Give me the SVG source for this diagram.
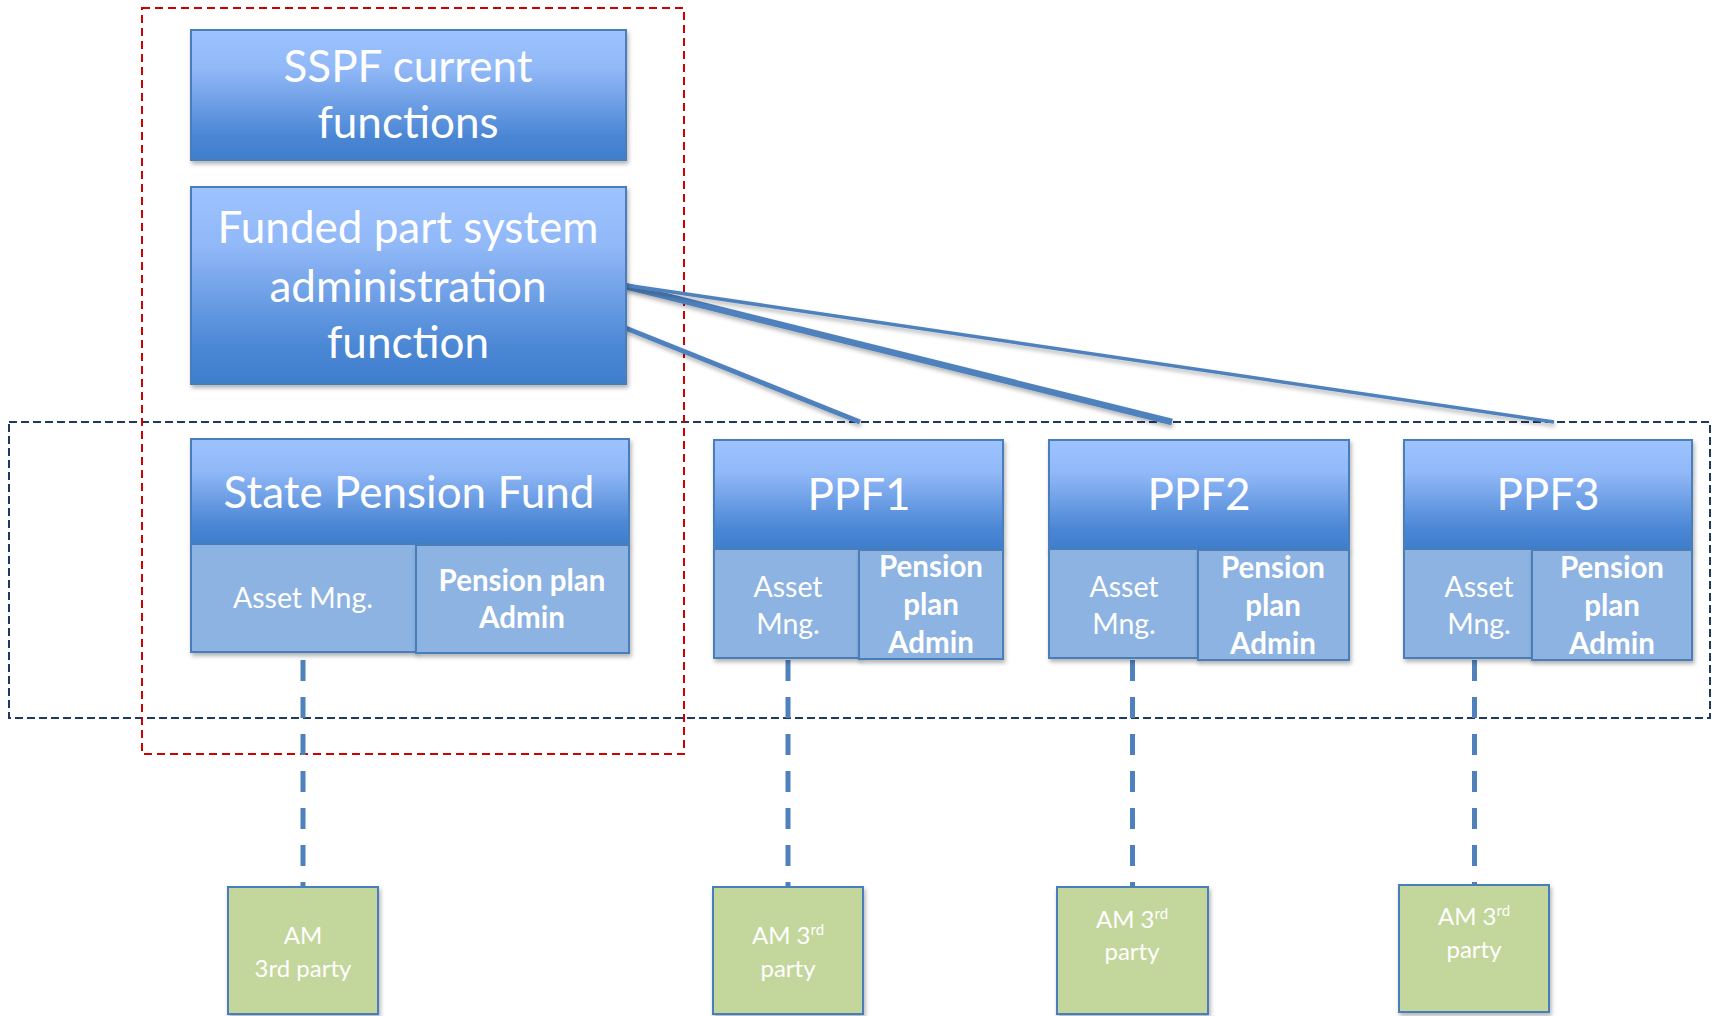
<svg xmlns="http://www.w3.org/2000/svg" width="1712" height="1016" viewBox="0 0 1712 1016">
<defs>
<linearGradient id="gBlue" x1="0" y1="0" x2="0" y2="1">
<stop offset="0" stop-color="#9dc3ff"/>
<stop offset="0.3" stop-color="#91b8f7"/>
<stop offset="0.82" stop-color="#4a86d4"/>
<stop offset="1" stop-color="#3f7ecd"/>
</linearGradient>
<filter id="sh" x="-10%" y="-10%" width="130%" height="130%">
<feDropShadow dx="1.5" dy="3" stdDeviation="2" flood-color="#000" flood-opacity="0.3"/>
</filter>
<filter id="shl" x="-5%" y="-20%" width="110%" height="160%">
<feDropShadow dx="1" dy="3" stdDeviation="2" flood-color="#000" flood-opacity="0.3"/>
</filter>
</defs>
<style>
.top{fill:url(#gBlue);stroke:#4a7ebb;stroke-width:2}
.sub{fill:#8db3e2;stroke:#4a7ebb;stroke-width:2}
.grn{fill:#c3d69b;stroke:#4a7ebb;stroke-width:2}
text{font-family:Lato,"Liberation Sans",sans-serif;fill:#fff;text-anchor:middle}
.big{font-size:44px}
.mid{font-size:28.5px}
.bold{font-size:29.5px;font-weight:bold}
.sm{font-size:24px}
.conn{stroke:#4f81bd;fill:none}
.dash{stroke:#4f81bd;stroke-width:5;stroke-dasharray:21 16;fill:none}
</style>

<g id="groups">
<rect x="9" y="422" width="1701" height="296" fill="none" stroke="#1f3a60" stroke-width="2" stroke-dasharray="8 4"/>
<rect x="142" y="8" width="542" height="746" fill="none" stroke="#d00000" stroke-width="2" stroke-dasharray="8 5"/>
</g>

<g id="connectors">
<line class="conn" x1="409" y1="384" x2="409" y2="439" stroke-width="5" filter="url(#shl)"/>
<line class="conn" x1="623" y1="327" x2="860" y2="422" stroke-width="5" filter="url(#shl)"/>
<line class="conn" x1="625" y1="286" x2="1172" y2="422" stroke-width="6.5" filter="url(#shl)"/>
<line class="conn" x1="625" y1="285" x2="1554" y2="422" stroke-width="3.5" filter="url(#shl)"/>
<line class="dash" x1="303" y1="660" x2="303" y2="889"/>
<line class="dash" x1="788" y1="660" x2="788" y2="889"/>
<line class="dash" x1="1132.5" y1="660" x2="1132.5" y2="889"/>
<line class="dash" x1="1474.5" y1="660" x2="1474.5" y2="887"/>
</g>

<g id="sspf">
<rect class="top" x="191" y="30" width="435" height="130" filter="url(#sh)"/>
<text class="big" x="408" y="82">SSPF current</text>
<text class="big" x="408" y="138">functions</text>
</g>

<g id="funded">
<rect class="top" x="191" y="187" width="435" height="197" filter="url(#sh)"/>
<text class="big" x="408" y="243">Funded part system</text>
<text class="big" x="408" y="302">administration</text>
<text class="big" x="408" y="358">function</text>
</g>

<g id="spf">
<rect class="top" x="191" y="439" width="438" height="105" filter="url(#sh)"/>
<text class="big" x="409" y="508">State Pension Fund</text>
<rect class="sub" x="191" y="544" width="225" height="108" filter="url(#sh)"/>
<text class="mid" x="303" y="608">Asset Mng.</text>
<rect class="sub" x="416" y="545" width="213" height="108" filter="url(#sh)"/>
<text class="bold" x="522" y="591">Pension plan</text>
<text class="bold" x="522" y="628">Admin</text>
</g>

<g id="ppf1">
<rect class="top" x="714" y="440" width="289" height="109" filter="url(#sh)"/>
<text class="big" x="859" y="510">PPF1</text>
<rect class="sub" x="714" y="549" width="145" height="109" filter="url(#sh)"/>
<text class="mid" x="788" y="597">Asset</text>
<text class="mid" x="788" y="634">Mng.</text>
<rect class="sub" x="859" y="550" width="144" height="109" filter="url(#sh)"/>
<text class="bold" x="931" y="577">Pension</text>
<text class="bold" x="931" y="615">plan</text>
<text class="bold" x="931" y="653">Admin</text>
</g>

<g id="ppf2">
<rect class="top" x="1049" y="440" width="300" height="109" filter="url(#sh)"/>
<text class="big" x="1199" y="510">PPF2</text>
<rect class="sub" x="1049" y="549" width="149" height="109" filter="url(#sh)"/>
<text class="mid" x="1124" y="597">Asset</text>
<text class="mid" x="1124" y="634">Mng.</text>
<rect class="sub" x="1198" y="550" width="151" height="110" filter="url(#sh)"/>
<text class="bold" x="1273" y="578">Pension</text>
<text class="bold" x="1273" y="616">plan</text>
<text class="bold" x="1273" y="654">Admin</text>
</g>

<g id="ppf3">
<rect class="top" x="1404" y="440" width="288" height="109" filter="url(#sh)"/>
<text class="big" x="1548" y="510">PPF3</text>
<rect class="sub" x="1404" y="549" width="128" height="109" filter="url(#sh)"/>
<text class="mid" x="1479" y="597">Asset</text>
<text class="mid" x="1479" y="634">Mng.</text>
<rect class="sub" x="1532" y="550" width="160" height="110" filter="url(#sh)"/>
<text class="bold" x="1612" y="578">Pension</text>
<text class="bold" x="1612" y="616">plan</text>
<text class="bold" x="1612" y="654">Admin</text>
</g>

<g id="am1">
<rect class="grn" x="228" y="887" width="150" height="127" filter="url(#sh)"/>
<text class="sm" x="303" y="944">AM</text>
<text class="sm" x="303" y="977">3rd party</text>
</g>

<g id="am2">
<rect class="grn" x="713" y="887" width="150" height="127" filter="url(#sh)"/>
<text class="sm" x="788" y="944">AM 3<tspan font-size="15" dy="-9">rd</tspan></text>
<text class="sm" x="788" y="977">party</text>
</g>

<g id="am3">
<rect class="grn" x="1057" y="887" width="151" height="127" filter="url(#sh)"/>
<text class="sm" x="1132" y="928">AM 3<tspan font-size="15" dy="-9">rd</tspan></text>
<text class="sm" x="1132" y="960">party</text>
</g>

<g id="am4">
<rect class="grn" x="1399" y="885" width="150" height="127" filter="url(#sh)"/>
<text class="sm" x="1474" y="925">AM 3<tspan font-size="15" dy="-9">rd</tspan></text>
<text class="sm" x="1474" y="958">party</text>
</g>
</svg>
